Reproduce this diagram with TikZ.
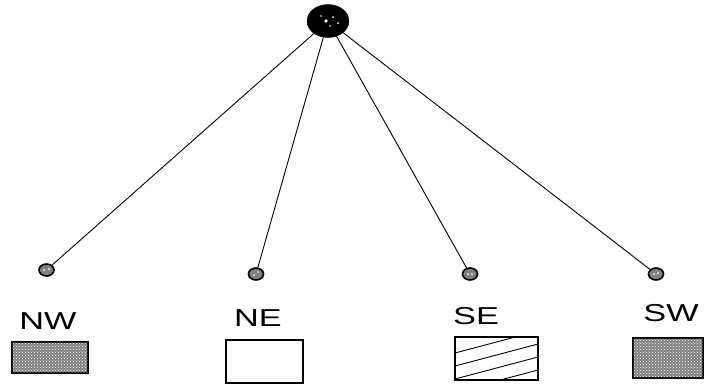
\documentclass[tikz,border=0pt]{standalone}
\usepackage{fontspec}
\setmainfont{Liberation Sans}
\usetikzlibrary{patterns,shapes.geometric}
\newcommand{\widelabel}[1]{\scalebox{1.4}[1]{#1}}
\begin{document}
\begin{tikzpicture}[x=1pt,y=-1pt,
  rootnode/.style={ellipse,draw=black,fill=black,minimum width=42pt,minimum height=33pt,inner sep=0pt},
  leafnode/.style={ellipse,draw=black,line width=1.6pt,fill=black!50,minimum width=15pt,minimum height=12pt,inner sep=0pt},
  branch/.style={draw=black,line width=0.9pt},
  quadlabel/.style={font=\fontsize{24.5}{24.5}\selectfont,inner sep=0pt},
  quadbox/.style={draw=black,line width=1.2pt,inner sep=0pt}
]
\useasboundingbox (0,0) rectangle (704,384);

% root of the quadtree
\node[rootnode] (root) at (328,21) {};
\fill[white] (326,21) circle (1.8) (333,17) circle (1) (338,23) circle (1) (321,16) circle (0.9) (330,26) circle (0.8);

% four children
\node[leafnode] (nw) at (46.5,270) {};
\node[leafnode] (ne) at (256,274) {};
\node[leafnode] (se) at (470,274) {};
\node[leafnode] (sw) at (656,274) {};
\fill[white] (44,270) circle (1) (49,269) circle (1) (254,275) circle (1) (258,272) circle (0.9)
  (468,274) circle (1) (472,274) circle (1) (654,274) circle (1) (658,273) circle (1);

\draw[branch] (root) -- (nw);
\draw[branch] (root) -- (ne);
\draw[branch] (root) -- (se);
\draw[branch] (root) -- (sw);

% quadrant names
\node[quadlabel] (lnw) at (48,321) {\widelabel{NW}};
\node[quadlabel] (lne) at (258,318) {\widelabel{NE}};
\node[quadlabel] (lse) at (476,316) {\widelabel{SE}};
\node[quadlabel] (lsw) at (671,313) {\widelabel{SW}};

% quadrant swatches
\node[quadbox,fill=black!50,minimum width=76pt,minimum height=31pt] (bnw) at (50,357.5) {};
\fill[pattern=crosshatch dots,pattern color=white] (bnw.south west) rectangle (bnw.north east);
\draw[line width=1.2pt] (bnw.south west) rectangle (bnw.north east);

\node[quadbox,minimum width=77pt,minimum height=43pt] (bne) at (264.5,361.5) {};

\node[quadbox,minimum width=83pt,minimum height=43pt] (bse) at (496.5,358.5) {};
\begin{scope}
  \clip (bse.south west) rectangle (bse.north east);
  \foreach \c in {353,366,379,392}
    \draw[line width=0.9pt] (455,\c) -- (538,\c-22);
\end{scope}

\node[quadbox,fill=black!50,minimum width=70pt,minimum height=40pt] (bsw) at (668,358) {};
\fill[pattern=crosshatch dots,pattern color=white] (bsw.south west) rectangle (bsw.north east);
\draw[line width=1.2pt] (bsw.south west) rectangle (bsw.north east);
\end{tikzpicture}
\end{document}
